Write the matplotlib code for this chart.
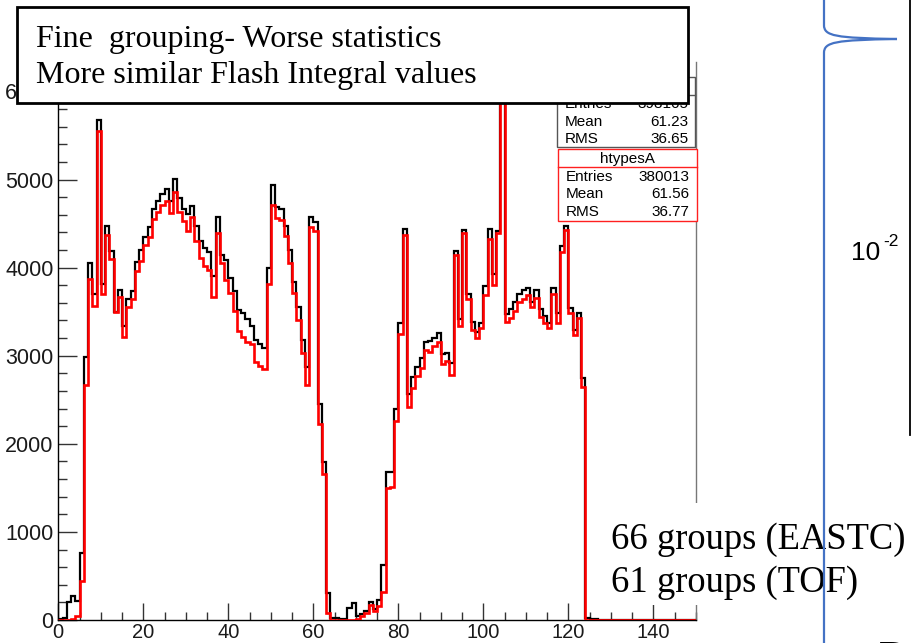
import matplotlib
matplotlib.use("Agg")
import matplotlib.pyplot as plt
import numpy as np
from matplotlib.patches import Rectangle, PathPatch
from matplotlib.path import Path
from matplotlib.ticker import MultipleLocator

# ---------------- data (bin width 1, range 0..150) ----------------
bin_edges_lo = 0
bin_edges_hi = 150

black_counts = [
    10, 20, 200, 275, 220, 755, 2980, 4048, 3700, 5680,
    3810, 4477, 4190, 3500, 3750, 3340, 3640, 3731, 4060, 4200,
    4352, 4458, 4667, 4754, 4830, 4894, 4761, 5008, 4792, 4667,
    4610, 4697, 4477, 4307, 4220, 4182, 3909, 4580, 4148, 4091,
    3883, 3731, 3519, 3481, 3417, 3333, 3178, 3133, 3083, 3992,
    4932, 4693, 4667, 4477, 4201, 3833, 3557, 3178, 2867, 4572,
    4515, 2449, 1789, 309, 25, 25, 15, 15, 140, 190,
    45, 70, 100, 205, 130, 225, 620, 1677, 1677, 2397,
    3374, 4434, 2563, 2759, 2876, 2978, 3151, 3166, 3197, 3253,
    3019, 3027, 2914, 4185, 3415, 4427, 3695, 3378, 3272, 3366,
    3793, 4434, 3932, 4420, 6150, 3468, 3529, 3612, 3706, 3744,
    3763, 3612, 3744, 3525, 3449, 3366, 3763, 3487, 4242, 4472,
    3536, 3291, 3487, 2744, 25, 15, 10, 0, 0, 0,
    0, 0, 0, 0, 0, 0, 0, 0, 0, 0,
    0, 0, 0, 0, 0, 0, 0, 0, 0, 0,
]

red_counts = [
    5, 5, 5, 10, 49, 444, 2673, 3871, 3561, 5550,
    3701, 4375, 4102, 3492, 3670, 3208, 3549, 3644, 3958, 4080,
    4261, 4352, 4553, 4636, 4712, 4761, 4621, 4856, 4636, 4527,
    4413, 4572, 4299, 4110, 4023, 3977, 3670, 4390, 4049, 3860,
    3712, 3511, 3277, 3216, 3152, 3133, 2924, 2886, 2848, 3814,
    4705, 4564, 4545, 4364, 4053, 3712, 3405, 3027, 2673, 4466,
    4413, 2223, 1660, 83, 0, 0, 0, 0, 0, 0,
    15, 45, 75, 170, 100, 160, 320, 1500, 1515, 2264,
    3242, 4366, 2423, 2638, 2770, 2857, 3064, 3046, 3110, 3159,
    2902, 2940, 2781, 4148, 3336, 4393, 3649, 3291, 3197, 3310,
    3687, 4329, 3808, 4390, 6100, 3378, 3431, 3506, 3612, 3649,
    3687, 3555, 3657, 3442, 3366, 3310, 3706, 3366, 4178, 4423,
    3480, 3234, 3431, 2649, 0, 0, 0, 0, 0, 0,
    0, 0, 0, 0, 0, 0, 0, 0, 0, 0,
    0, 0, 0, 0, 0, 0, 0, 0, 0, 0,
]

x_ticks = [0, 20, 40, 60, 80, 100, 120, 140]
y_ticks = [0, 1000, 2000, 3000, 4000, 5000, 6000]

stat1_title = "htypes"
stat1_rows = [("Entries", "398165"), ("Mean", "61.23"), ("RMS", "36.65")]
stat2_title = "htypesA"
stat2_rows = [("Entries", "380013"), ("Mean", "61.56"), ("RMS", "36.77")]

box_lines = ["Fine  grouping- Worse statistics", "More similar Flash Integral values"]
group_lines = ["66 groups (EASTC)", "61 groups (TOF)"]

# ---------------- figure ----------------
W, H = 912, 643
fig = plt.figure(figsize=(W / 100, H / 100), dpi=100)
fig.patch.set_facecolor("white")

SANS = ["Liberation Sans", "DejaVu Sans"]
SERIF = ["Liberation Serif", "DejaVu Serif"]

# main ROOT-like histogram frame (pixel geometry)
x0_px, x1_px = 58.3, 695.8
y0_px = 620.0
px_per_1000 = 88.1
ytop_px = 62.0
ymax = (y0_px - ytop_px) / px_per_1000 * 1000

ax = fig.add_axes([x0_px / W, (H - y0_px) / H, (x1_px - x0_px) / W, (y0_px - ytop_px) / H])
ax.set_xlim(bin_edges_lo, bin_edges_hi)
ax.set_ylim(0, ymax)
edges = np.arange(bin_edges_lo, bin_edges_hi + 1)
ax.stairs(black_counts, edges, color="black", lw=1.6, baseline=0, zorder=3)
ax.stairs(red_counts, edges, color="#ff0000", lw=1.9, baseline=0, zorder=4)

ax.spines["top"].set_visible(False)
ax.spines["right"].set_color("#777777")
ax.spines["right"].set_linewidth(1.0)
ax.spines["left"].set_linewidth(1.0)
ax.spines["bottom"].set_linewidth(1.0)

ax.set_xticks(x_ticks)
ax.set_xticklabels([str(v) for v in x_ticks])
ax.set_yticks(y_ticks)
ax.set_yticklabels([str(v) for v in y_ticks])
ax.xaxis.set_minor_locator(MultipleLocator(5))
ax.yaxis.set_minor_locator(MultipleLocator(200))
ax.tick_params(axis="both", which="both", direction="in", top=False, right=False, color="#333333")
ax.tick_params(axis="x", which="major", length=12, width=1.0, pad=2.5)
ax.tick_params(axis="x", which="minor", length=6, width=1.0)
ax.tick_params(axis="y", which="major", length=13.5, width=1.0, pad=3.5)
ax.tick_params(axis="y", which="minor", length=6.5, width=1.0)
for lab in ax.get_yticklabels():
    lab.set_fontfamily(SANS)
    lab.set_fontsize(15.5)
    lab.set_color("#1a1a1a")
for lab in ax.get_xticklabels():
    lab.set_fontfamily(SANS)
    lab.set_fontsize(14.5)
    lab.set_color("#1a1a1a")

# ---------------- overlay in pixel coordinates ----------------
ov = fig.add_axes([0, 0, 1, 1], zorder=10)
ov.set_xlim(0, W)
ov.set_ylim(H, 0)
ov.axis("off")
ov.patch.set_alpha(0)


def stat_box(x_l, x_r, y_top, sep_y, y_bot, title, rows, edge, zo, row_y):
    ov.add_patch(Rectangle((x_l, y_top), x_r - x_l, y_bot - y_top, facecolor="white",
                           edgecolor=edge, lw=1.0, zorder=zo))
    ov.plot([x_l, x_r], [sep_y, sep_y], color=edge, lw=1.0, zorder=zo + 0.1)
    ov.text((x_l + x_r) / 2, (y_top + sep_y) / 2 + 0.5, title, ha="center", va="center",
            fontsize=11, family=SANS, color="black", zorder=zo + 0.2)
    for (k, v), yy in zip(rows, row_y):
        ov.text(x_l + 7, yy, k, ha="left", va="center", fontsize=11, family=SANS, zorder=zo + 0.2)
        ov.text(x_r - 7, yy, v, ha="right", va="center", fontsize=11, family=SANS, zorder=zo + 0.2)


stat_box(557.3, 695.3, 77, 95, 146.5, stat1_title, stat1_rows, "#555555", 2, [104.5, 121.5, 139])
stat_box(558.3, 696.7, 149.3, 167.3, 221, stat2_title, stat2_rows, "#ff2020", 2, [176.7, 194.5, 211.5])

# top-left text box (covers the top of the frame, as in the reference)
ov.add_patch(Rectangle((17.5, 7), 671, 95.5, facecolor="white", edgecolor="black", lw=2.0, zorder=5))
ov.text(36, 40, box_lines[0], ha="left", va="center", fontsize=23, family=SERIF, zorder=6)
ov.text(36, 75, box_lines[1], ha="left", va="center", fontsize=23, family=SERIF, zorder=6)

# bottom-right group text with white background
ov.add_patch(Rectangle((604, 503), 308, 102, facecolor="white", edgecolor="none", zorder=5))
ov.text(611, 540, group_lines[0], ha="left", va="center", fontsize=26.3, family=SERIF, zorder=6)
ov.text(611, 583, group_lines[1], ha="left", va="center", fontsize=26.3, family=SERIF, zorder=6)

# right-hand decorations
blue = "#4472C4"
verts = [(824, -2), (824, 25),
         (824, 36), (835, 38), (897, 39),
         (835, 40), (824, 42), (824, 53),
         (824, 645)]
codes = [Path.MOVETO, Path.LINETO,
         Path.CURVE4, Path.CURVE4, Path.CURVE4,
         Path.CURVE4, Path.CURVE4, Path.CURVE4,
         Path.LINETO]
ov.add_patch(PathPatch(Path(verts, codes), facecolor="none", edgecolor=blue, lw=1.6, zorder=8))
ov.plot([910, 910], [0, 435], color="black", lw=1.3, zorder=7)
ov.text(851, 253, "10", ha="left", va="center", fontsize=19, family=SANS, zorder=7)
ov.text(883, 241, "-2", ha="left", va="center", fontsize=12.5, family=SANS, zorder=7)
ov.text(876, 664, "D", ha="left", va="center", fontsize=36, family=SANS, zorder=7, clip_on=True)

fig.savefig("out.png", dpi=100, facecolor="white")
